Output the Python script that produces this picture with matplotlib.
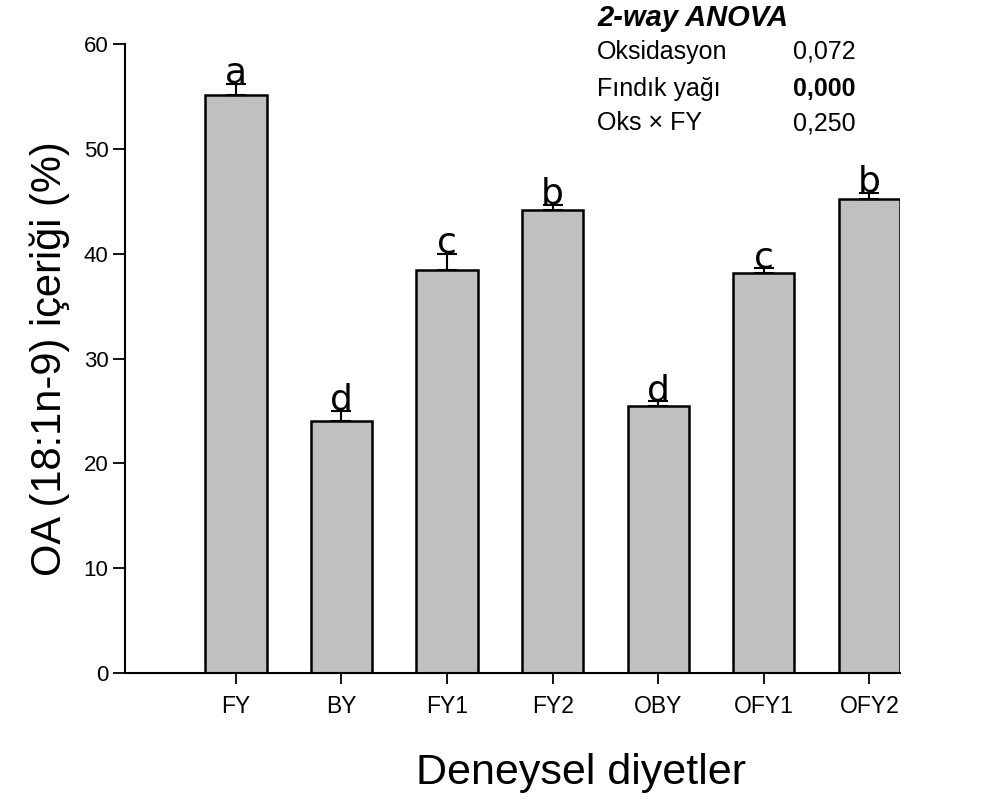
import matplotlib
matplotlib.use('Agg')
import matplotlib.pyplot as plt
import numpy as np

# Veriler
diyetler = ['FY', 'BY', 'FY1', 'FY2', 'OBY', 'OFY1', 'OFY2']
oa = [55.1, 24.05, 38.4, 44.2, 25.5, 38.2, 45.25]
hata = [1.1, 0.95, 1.6, 0.45, 0.4, 0.4, 0.55]
harfler = ['a', 'd', 'c', 'b', 'd', 'c', 'b']

anova_etiket = ['Oksidasyon', 'Fındık yağı', 'Oks × FY']
anova_p = ['0,072', '0,000', '0,250']

plt.rcParams['font.family'] = ['Liberation Sans', 'DejaVu Sans']

fig = plt.figure(figsize=(9.9, 7.99), dpi=100)
ax = fig.add_axes([0.1263, 0.1577, 0.7828, 0.7872])

x = np.arange(len(diyetler))
ax.bar(x, oa, width=0.58, color='#c0c0c0', edgecolor='black', linewidth=1.8, zorder=2)
ax.errorbar(x, oa, yerr=[np.zeros(len(hata)), hata], fmt='none', ecolor='black',
            elinewidth=1.5, capsize=7, capthick=1.5, zorder=3)

for xi, v, e, h in zip(x, oa, hata, harfler):
    ax.text(xi, v + e + 0.1, h, ha='center', va='baseline', fontsize=26,
            family='DejaVu Sans', zorder=4)

ax.set_xlim(-1.05, 6.29)
ax.set_ylim(0, 60)
ax.set_yticks(range(0, 61, 10))
ax.set_xticks(x)
ax.set_xticklabels(diyetler, fontsize=16.5)
ax.tick_params(axis='y', labelsize=16, length=9, width=1.3, direction='out', pad=3)
ax.tick_params(axis='x', length=8, width=1.3, direction='out', pad=8)
for s in ['top', 'right']:
    ax.spines[s].set_visible(False)
for s in ['left', 'bottom']:
    ax.spines[s].set_linewidth(1.5)

ax.set_ylabel('OA (18:1n-9) içeriği (%)', fontsize=30, labelpad=10)
ax.set_xlabel('Deneysel diyetler', fontsize=31)
ax.xaxis.label.set_va('center')
ax.xaxis.set_label_coords((581 - 125) / 775, -(773 - 673) / 629)

# ANOVA tablosu
fig.text(597 / 990, 1 - 18 / 799, '2-way ANOVA', fontsize=21, fontweight='bold',
         fontstyle='italic', va='center', ha='left')
satir_y = [52, 89, 123]
for i, (et, p) in enumerate(zip(anova_etiket, anova_p)):
    fig.text(597 / 990, 1 - satir_y[i] / 799, et, fontsize=18, va='center', ha='left')
    fig.text(856 / 990, 1 - satir_y[i] / 799, p, fontsize=18, va='center', ha='right',
             fontweight='bold' if p == '0,000' else 'normal')

fig.savefig('out.png', dpi=100)
